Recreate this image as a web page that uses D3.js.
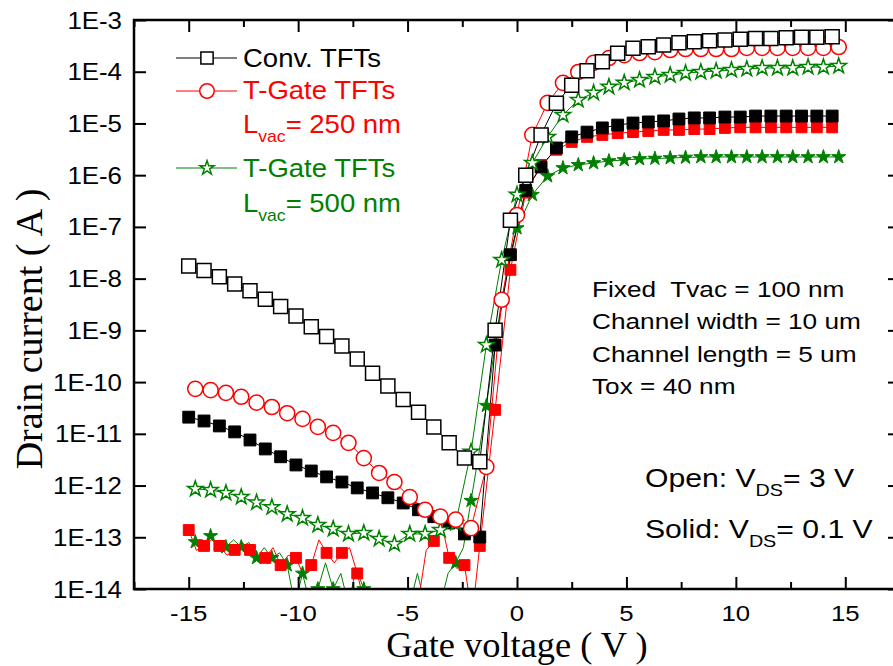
<!DOCTYPE html>
<html><head><meta charset="utf-8">
<script src="https://cdn.jsdelivr.net/npm/d3@7"></script>
<style>body{margin:0;background:#fff}svg{display:block}</style>
</head><body>
<svg id="c" width="893" height="666"></svg>
<script>
// ---------- data ----------
const xGridA = [-15,-14.3,-13.6,-12.9,-12.2,-11.5,-10.8,-10.1,-9.4,-8.7,-8.0,-7.3,-6.6,-5.9,-5.2,-4.5,-3.8,-3.1,-2.4,-1.7,-1.0,-0.3,0.4,1.1,1.8,2.5,3.2,3.9,4.6,5.3,6.0,6.7,7.4,8.1,8.8,9.5,10.2,10.9,11.6,12.3,13.0,13.7,14.4];
const xGridB = [-14.7,-14.0,-13.3,-12.6,-11.9,-11.2,-10.5,-9.8,-9.1,-8.4,-7.7,-7.0,-6.3,-5.6,-4.9,-4.2,-3.5,-2.8,-2.1,-1.4,-0.7,0.0,0.7,1.4,2.1,2.8,3.5,4.2,4.9,5.6,6.3,7.0,7.7,8.4,9.1,9.8,10.5,11.2,11.9,12.6,13.3,14.0,14.7];

// Conv. TFTs, VDS = 3 V (open squares)
const convOpen = [1.76e-8,1.43e-8,1.09e-8,7.9e-9,5.8e-9,4.0e-9,2.9e-9,1.9e-9,1.18e-9,7.6e-10,5.0e-10,2.8e-10,1.48e-10,8.4e-11,4.6e-11,2.6e-11,1.36e-11,6.7e-12,3.4e-12,2.9e-12,1.0e-9,1.35e-7,1.0e-6,6.0e-6,2.45e-5,5.5e-5,1.05e-4,1.56e-4,2.27e-4,2.83e-4,3.05e-4,3.29e-4,3.65e-4,3.81e-4,3.98e-4,4.1e-4,4.23e-4,4.4e-4,4.4e-4,4.55e-4,4.62e-4,4.62e-4,4.76e-4];
// Conv. TFTs, VDS = 0.1 V (solid squares)
const convSolid = [2.1e-11,1.77e-11,1.42e-11,1.09e-11,7.6e-12,5.1e-12,3.6e-12,2.5e-12,1.91e-12,1.47e-12,1.17e-12,9.0e-13,7.2e-13,5.8e-13,4.6e-13,3.4e-13,2.5e-13,1.89e-13,1.16e-13,1.01e-13,5.2e-10,2.9e-8,5.1e-7,1.44e-6,3.36e-6,5.5e-6,6.8e-6,8.2e-6,9.3e-6,1.02e-5,1.07e-5,1.12e-5,1.22e-5,1.28e-5,1.28e-5,1.33e-5,1.33e-5,1.39e-5,1.39e-5,1.39e-5,1.39e-5,1.39e-5,1.39e-5];
// T-Gate Lvac=250 nm, VDS = 3 V (open circles)
const t250Open = [7.4e-11,7.0e-11,6.2e-11,5.2e-11,4.0e-11,3.3e-11,2.5e-11,1.94e-11,1.36e-11,1.04e-11,6.7e-12,3.4e-12,1.75e-12,1.17e-12,6.0e-13,3.4e-13,2.5e-13,2.2e-13,1.5e-13,2.3e-12,3.9e-9,1.7e-7,6.0e-6,2.5e-5,6.1e-5,9.9e-5,1.48e-4,1.84e-4,2.1e-4,2.3e-4,2.4e-4,2.63e-4,2.75e-4,2.75e-4,2.75e-4,2.75e-4,2.88e-4,2.88e-4,2.88e-4,2.88e-4,2.88e-4,2.88e-4,3.0e-4];
// T-Gate Lvac=250 nm, VDS = 0.1 V (solid squares)
const t250Solid = [1.38e-13,6.8e-14,6.8e-14,5.7e-14,5.7e-14,4.0e-14,2.9e-14,4.0e-14,2.9e-14,5.0e-14,5.0e-14,2.0e-14,5e-15,5e-15,5e-15,6e-15,8.5e-14,4.0e-14,2.9e-14,6.8e-14,2.9e-11,1.48e-8,4.6e-7,1.58e-6,3.1e-6,4.4e-6,5.5e-6,6.0e-6,6.5e-6,6.8e-6,7.1e-6,7.5e-6,7.5e-6,7.8e-6,7.8e-6,8.2e-6,8.4e-6,8.4e-6,8.4e-6,8.4e-6,8.4e-6,8.4e-6,8.4e-6];
const t250SolidLineV = [-15,-14.65,-14.3,-13.95,-13.6,-13.25,-12.9,-12.55,-12.2,-11.85,-11.5,-11.15,-10.8,-10.45,-10.1,-9.75,-9.4,-9.05,-8.7,-8.35,-8.0,-7.65,-7.3,-6.95,-6.6,-6.25,-5.9,-5.55,-5.2,-4.85,-4.5,-4.15,-3.8,-3.45,-3.1,-2.75,-2.4,-2.05,-1.7];
const t250SolidLineI = [1.4e-13,5.6e-14,6.8e-14,8.9e-14,6.8e-14,4.5e-14,5.7e-14,7.9e-14,5.7e-14,3.5e-14,4.0e-14,6.3e-14,2.9e-14,4.5e-14,4.0e-14,1.8e-14,2.9e-14,8.9e-14,5.0e-14,3.2e-14,5.0e-14,6.3e-14,2.0e-14,5e-15,5e-15,5e-15,5e-15,5e-15,5e-15,6.3e-15,6e-15,5.6e-14,8.5e-14,1.9e-13,4.0e-14,2.5e-14,2.9e-14,3e-15,6.8e-14];
// T-Gate Lvac=500 nm, VDS = 3 V (open stars)
const t500Open = [8.6e-13,8.2e-13,7.2e-13,6.0e-13,4.7e-13,3.8e-13,2.8e-13,2.36e-13,1.73e-13,1.45e-13,1.16e-13,1.21e-13,9.3e-14,7.4e-14,1.16e-13,1.16e-13,1.38e-13,1.89e-13,4.5e-12,5.2e-10,2.3e-8,4.2e-7,1.72e-6,5.5e-6,1.46e-5,2.84e-5,3.9e-5,5.1e-5,6.1e-5,6.9e-5,7.9e-5,8.6e-5,9.4e-5,9.9e-5,1.03e-4,1.08e-4,1.13e-4,1.18e-4,1.18e-4,1.18e-4,1.23e-4,1.23e-4,1.29e-4];
// T-Gate Lvac=500 nm, VDS = 0.1 V (solid stars)
const t500Solid = [8.1e-14,1.06e-13,6.5e-14,6.5e-14,4.0e-14,4.0e-14,2.9e-14,2.0e-14,1.0e-14,1.0e-14,5e-15,1.0e-14,5e-15,5e-15,5e-15,5e-15,5e-15,3.2e-14,5.1e-13,3.5e-11,3.9e-9,9.5e-8,4.2e-7,9.6e-7,1.38e-6,1.58e-6,1.72e-6,1.88e-6,1.97e-6,2.06e-6,2.1e-6,2.15e-6,2.2e-6,2.25e-6,2.25e-6,2.25e-6,2.25e-6,2.25e-6,2.25e-6,2.25e-6,2.25e-6,2.25e-6,2.25e-6];
const t500SolidLineV = [-14.7,-14.35,-14.0,-13.65,-13.3,-12.95,-12.6,-12.25,-11.9,-11.55,-11.2,-10.85,-10.5,-10.15,-9.8,-9.45,-9.1,-8.75,-8.4,-8.05,-7.7,-7.35,-7.0,-6.65,-6.3,-5.95,-5.6,-5.25,-4.9,-4.55,-4.2,-3.85,-3.5,-3.15,-2.8,-2.45,-2.1,-1.75,-1.4];
const t500SolidLineI = [8.1e-14,5.6e-14,1.06e-13,6.3e-14,6.5e-14,8.9e-14,6.5e-14,7.9e-14,4.0e-14,6.3e-14,4.0e-14,5.0e-14,2.9e-14,5e-15,2.0e-14,5e-15,1.0e-14,3.2e-14,1.0e-14,2.0e-14,5e-15,2.5e-14,1.0e-14,5e-15,5e-15,5e-15,5e-15,5e-15,5e-15,2.0e-14,5e-15,5e-15,5e-15,2.0e-14,3.2e-14,6.3e-14,5.1e-13,4.0e-12,3.5e-11];

const yTickValues = [1e-14,1e-13,1e-12,1e-11,1e-10,1e-9,1e-8,1e-7,1e-6,1e-5,1e-4,1e-3];
const yTickLabels = ["1E-14","1E-13","1E-12","1E-11","1E-10","1E-9","1E-8","1E-7","1E-6","1E-5","1E-4","1E-3"];
const xTickValues = [-15,-10,-5,0,5,10,15];
const xTickLabels = ["-15","-10","-5","0","5","10","15"];
const xMinorValues = [-17.5,-12.5,-7.5,-2.5,2.5,7.5,12.5,17.5];
const notes = ["Fixed  Tvac = 100 nm","Channel width = 10 um","Channel length = 5 um","Tox = 40 nm"];

// ---------- chart ----------
const svg = d3.select("#c");
const L=134,T=20,R=900,B=589;
const x = d3.scaleLinear().domain([-17.5,17.5]).range([L,R]);
const y = d3.scaleLog().domain([1e-14,1e-3]).range([B,T]);
const SANS = "'Liberation Sans', Arial, sans-serif";
const SERIF = "'Liberation Serif', 'Times New Roman', serif";

svg.append("defs").append("clipPath").attr("id","clip")
  .append("rect").attr("x",L).attr("y",T).attr("width",R-L).attr("height",B-T);

const RED="#ff0000", GREEN="#008000", BLK="#000000";
const line = d3.line().x(d=>x(d[0])).y(d=>y(d[1]));
const zip = (a,b)=>a.map((v,i)=>[v,b[i]]);

const series = [
  {pts:zip(xGridB,t500Solid), ln:zip(t500SolidLineV,t500SolidLineI).concat(zip(xGridB.slice(20),t500Solid.slice(20))), color:GREEN, sym:d3.symbolStar, size:62, fill:GREEN},
  {pts:zip(xGridA,t250Solid), ln:zip(t250SolidLineV,t250SolidLineI).concat(zip(xGridA.slice(20),t250Solid.slice(20))), color:RED, sym:d3.symbolSquare, size:118, fill:RED},
  {pts:zip(xGridA,convSolid), ln:zip(xGridA,convSolid), color:BLK, sym:d3.symbolSquare, size:140, fill:BLK},
  {pts:zip(xGridB,t500Open), ln:zip(xGridB,t500Open), color:GREEN, sym:d3.symbolStar, size:74, fill:"#fff"},
  {pts:zip(xGridB,t250Open), ln:zip(xGridB,t250Open), color:RED, sym:d3.symbolCircle, size:180, fill:"#fff"},
  {pts:zip(xGridA,convOpen), ln:zip(xGridA,convOpen), color:BLK, sym:d3.symbolSquare, size:196, fill:"#fff"}
];

const plot = svg.append("g").attr("clip-path","url(#clip)");
series.forEach(s=>{
  plot.append("path").attr("d",line(s.ln)).attr("fill","none").attr("stroke",s.color).attr("stroke-width",1);
});
series.forEach(s=>{
  plot.append("g").selectAll("path").data(s.pts).join("path")
    .attr("transform",d=>`translate(${x(d[0])},${y(d[1])})`)
    .attr("d",d3.symbol().type(s.sym).size(s.size))
    .attr("fill",s.fill).attr("stroke",s.color).attr("stroke-width",s.fill==="#fff"?1.5:1);
});

// axes (ticks inward)
const minorY = y.ticks().filter(v=>!yTickValues.some(t=>Math.abs(Math.log10(v)-Math.log10(t))<1e-6));
function styleAxis(g){g.select(".domain").remove();g.selectAll("line").attr("stroke","#000").attr("stroke-width",2);}
svg.append("g").attr("transform",`translate(0,${B})`).call(d3.axisBottom(x).tickValues(xTickValues).tickSize(-12).tickFormat("")).call(styleAxis);
svg.append("g").attr("transform",`translate(0,${B})`).call(d3.axisBottom(x).tickValues(xMinorValues).tickSize(-7).tickFormat("")).call(styleAxis);
svg.append("g").attr("transform",`translate(0,${T})`).call(d3.axisTop(x).tickValues(xTickValues).tickSize(-12).tickFormat("")).call(styleAxis);
svg.append("g").attr("transform",`translate(0,${T})`).call(d3.axisTop(x).tickValues(xMinorValues).tickSize(-7).tickFormat("")).call(styleAxis);
svg.append("g").attr("transform",`translate(${L},0)`).call(d3.axisLeft(y).tickValues(yTickValues).tickSize(-12).tickFormat("")).call(styleAxis);
svg.append("g").attr("transform",`translate(${L},0)`).call(d3.axisLeft(y).tickValues(minorY).tickSize(-7).tickFormat("")).call(styleAxis);
svg.append("g").attr("transform",`translate(${R},0)`).call(d3.axisRight(y).tickValues(yTickValues).tickSize(-12).tickFormat("")).call(styleAxis);
svg.append("g").attr("transform",`translate(${R},0)`).call(d3.axisRight(y).tickValues(minorY).tickSize(-7).tickFormat("")).call(styleAxis);
svg.append("rect").attr("x",L).attr("y",T).attr("width",R-L).attr("height",B-T)
  .attr("fill","none").attr("stroke","#000").attr("stroke-width",2.5);

// tick labels
svg.append("g").selectAll("text").data(yTickValues).join("text")
  .attr("transform",d=>`translate(122,${y(d)+8.5}) scale(1.1,1)`)
  .attr("text-anchor","end").attr("font-family",SANS).attr("font-size",23.5)
  .text((d,i)=>yTickLabels[i]);
svg.append("g").selectAll("text").data(xTickValues).join("text")
  .attr("transform",d=>`translate(${x(d)},620.5) scale(1.12,1)`)
  .attr("text-anchor","middle").attr("font-family",SANS).attr("font-size",23)
  .text((d,i)=>xTickLabels[i]);

// axis titles
svg.append("text").attr("transform","translate(517,657) scale(1.04,1)").attr("text-anchor","middle")
  .attr("font-family",SERIF).attr("font-size",35).text("Gate voltage ( V )");
svg.append("text").attr("transform","translate(42,329) rotate(-90)").attr("text-anchor","middle")
  .attr("font-family",SERIF).attr("font-size",38).text("Drain current ( A )");

// legend
const leg = svg.append("g");
function legendRow(ly, color, sym, size){
  leg.append("line").attr("x1",176).attr("x2",237).attr("y1",ly).attr("y2",ly).attr("stroke",color).attr("stroke-width",1);
  leg.append("path").attr("transform",`translate(207,${ly})`).attr("d",d3.symbol().type(sym).size(size))
    .attr("fill","#fff").attr("stroke",color).attr("stroke-width",1.5);
}
function legText(by, color, parts){
  const t = leg.append("text").attr("transform",`translate(243,${by}) scale(1.1,1)`)
    .attr("font-family",SANS).attr("font-size",25).attr("fill",color);
  parts.forEach(p=>{
    const ts = t.append("tspan").text(p.t);
    if(p.sub){ts.attr("font-size",16).attr("dy",9);} else if(p.back){ts.attr("dy",-9);}
  });
}
legendRow(58,BLK,d3.symbolSquare,150);
legText(67,BLK,[{t:"Conv. TFTs"}]);
legendRow(91,RED,d3.symbolCircle,165);
legText(99,RED,[{t:"T-Gate TFTs"}]);
legText(133,RED,[{t:"L"},{t:"vac",sub:true},{t:"= 250 nm",back:true}]);
legendRow(168,GREEN,d3.symbolStar,62);
legText(177,GREEN,[{t:"T-Gate TFTs"}]);
legText(212,GREEN,[{t:"L"},{t:"vac",sub:true},{t:"= 500 nm",back:true}]);

// notes
svg.append("g").selectAll("text").data(notes).join("text")
  .attr("transform",(d,i)=>`translate(592,${297+i*32.3}) scale(1.22,1)`)
  .attr("font-family",SANS).attr("font-size",21.5).style("white-space","pre").text(d=>d);

function vdsText(by, pre, post){
  const t = svg.append("text").attr("transform",`translate(645,${by}) scale(1.16,1)`)
    .attr("font-family",SANS).attr("font-size",26);
  t.append("tspan").text(pre);
  t.append("tspan").attr("font-size",17).attr("dy",9).text("DS");
  t.append("tspan").attr("dy",-9).text(post);
}
vdsText(487,"Open: V","= 3 V");
vdsText(538,"Solid: V","= 0.1 V");
</script>
</body></html>
